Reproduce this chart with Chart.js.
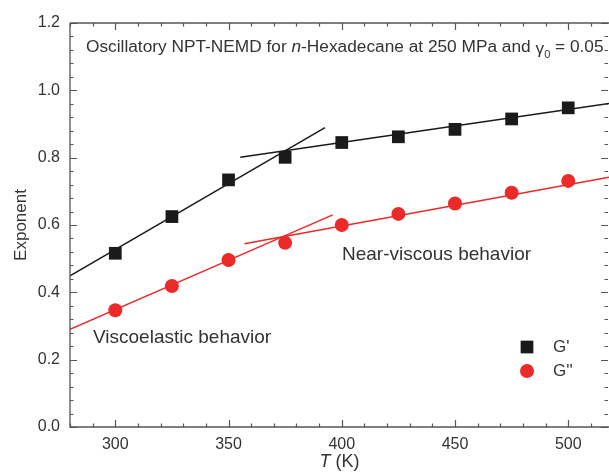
<!DOCTYPE html>
<html>
<head>
<meta charset="utf-8">
<script src="https://cdn.jsdelivr.net/npm/chart.js@4/dist/chart.umd.min.js"></script>
<style>
    html, body { margin: 0; padding: 0; background: #fff; }
    #wrap { width: 609px; height: 472px; }
</style>
</head>
<body>
<div id="wrap"><canvas id="chart" width="609" height="472"></canvas></div>
<script>
// data
const temps = [300, 325, 350, 375, 400, 425, 450, 475, 500];
const gPrime = [0.516, 0.625, 0.734, 0.801, 0.845, 0.862, 0.884, 0.915, 0.948];
const gDouble = [0.347, 0.419, 0.496, 0.547, 0.600, 0.633, 0.664, 0.696, 0.731];

// fitted lines (end points)
const fitGpViscoelastic = [[280, 0.449], [392.6, 0.889]];
const fitGpViscous = [[355.2, 0.801], [518, 0.961]];
const fitGdViscoelastic = [[280, 0.290], [396, 0.630]];
const fitGdViscous = [[357, 0.544], [518, 0.742]];

const xTicks = [300, 350, 400, 450, 500];
const yTicks = [0, 0.2, 0.4, 0.6, 0.8, 1.0, 1.2];
const xMinorStep = 10;
const yMinorStep = 0.04;

const FONT = '"Liberation Sans", Arial, sans-serif';
const TEXT = '#333';
const AXIS = '#555';
const BLACK = '#1a1a1a';
const RED = '#ec2a2a';

const toPts = (xs, ys) => xs.map((x, i) => ({ x: x, y: ys[i] }));
const pairPts = arr => arr.map(p => ({ x: p[0], y: p[1] }));

const lineSet = (pts, color) => ({
    data: pairPts(pts),
    showLine: true,
    borderColor: color,
    borderWidth: 1.5,
    pointRadius: 0,
    pointHoverRadius: 0
});

// frame + inward ticks (major and minor) on all four sides
const framePlugin = {
    id: 'frame',
    afterDatasetsDraw(chart) {
        const { ctx, chartArea: a, scales: { x, y } } = chart;
        ctx.save();
        ctx.strokeStyle = AXIS;
        ctx.lineWidth = 1.3;
        ctx.beginPath();
        ctx.moveTo(a.left, a.top);
        ctx.lineTo(a.right + 1, a.top);
        ctx.moveTo(a.left, a.top);
        ctx.lineTo(a.left, a.bottom);
        ctx.lineTo(a.right + 1, a.bottom);
        ctx.stroke();

        ctx.lineWidth = 1.2;
        ctx.beginPath();
        for (let v = 280; v <= x.max + 0.01; v += xMinorStep) {
            const px = Math.round(x.getPixelForValue(v)) + 0.5;
            const len = xTicks.includes(v) ? 7 : 3.5;
            ctx.moveTo(px, a.bottom); ctx.lineTo(px, a.bottom - len);
            ctx.moveTo(px, a.top); ctx.lineTo(px, a.top + len);
        }
        for (let i = 0; i <= 30; i++) {
            const v = i * yMinorStep;
            const py = Math.round(y.getPixelForValue(v)) + 0.5;
            const len = (i % 5 === 0) ? 7 : 3.5;
            ctx.moveTo(a.left, py); ctx.lineTo(a.left + len, py);
            ctx.moveTo(a.right - 1, py); ctx.lineTo(a.right - 1 - len, py);
        }
        ctx.stroke();
        ctx.restore();
    }
};

// draws a run of [text, font, dy] pieces left to right
function drawRun(ctx, x, y, parts) {
    parts.forEach(p => {
        ctx.font = p[1];
        ctx.fillText(p[0], x, y + (p[2] || 0));
        x += ctx.measureText(p[0]).width;
    });
}

const textPlugin = {
    id: 'texts',
    afterDraw(chart) {
        const { ctx, chartArea: a } = chart;
        ctx.save();
        ctx.fillStyle = TEXT;
        ctx.textBaseline = 'alphabetic';
        ctx.textAlign = 'left';

        const f17 = '17.3px ' + FONT;
        const i17 = 'italic 17.3px ' + FONT;
        drawRun(ctx, 86, 51.5, [
            ['Oscillatory NPT-NEMD for ', f17],
            ['n', i17],
            ['-Hexadecane at 250 MPa and ', f17],
            ['\u03b3', f17, 2],
            ['0', '11px ' + FONT, 6],
            [' = 0.05', f17]
        ]);

        ctx.font = '19px ' + FONT;
        ctx.textBaseline = 'middle';
        ctx.fillText('Viscoelastic behavior', 93, 338);
        ctx.fillText('Near-viscous behavior', 342, 255);

        // x axis title with italic T
        ctx.font = 'italic 18px ' + FONT;
        const wT = ctx.measureText('T').width;
        ctx.font = '18px ' + FONT;
        const wK = ctx.measureText(' (K)').width;
        const cx = (a.left + a.right) / 2;
        drawRun(ctx, cx - (wT + wK) / 2, 462, [['T', 'italic 18px ' + FONT], [' (K)', '18px ' + FONT]]);

        // legend
        const items = [
            { label: "G'", ds: chart.data.datasets[0], y: 347 },
            { label: "G''", ds: chart.data.datasets[1], y: 371 }
        ];
        items.forEach(it => {
            ctx.fillStyle = it.ds.backgroundColor;
            ctx.beginPath();
            if (it.ds.pointStyle === 'rect') {
                const h = it.ds.pointRadius * Math.SQRT1_2;
                ctx.rect(527 - h, it.y - h, 2 * h, 2 * h);
            } else {
                ctx.arc(527, it.y, it.ds.pointRadius, 0, Math.PI * 2);
            }
            ctx.fill();
            ctx.fillStyle = TEXT;
            ctx.font = '17px ' + FONT;
            ctx.fillText(it.label, 553, it.y);
        });
        ctx.restore();
    }
};

new Chart(document.getElementById('chart'), {
    type: 'scatter',
    data: {
        datasets: [
            {
                label: "G'",
                data: toPts(temps, gPrime),
                pointStyle: 'rect',
                pointRadius: 9,
                backgroundColor: BLACK,
                borderWidth: 0
            },
            {
                label: "G''",
                data: toPts(temps, gDouble),
                pointStyle: 'circle',
                pointRadius: 7,
                backgroundColor: RED,
                borderWidth: 0
            },
            lineSet(fitGpViscoelastic, BLACK),
            lineSet(fitGpViscous, BLACK),
            lineSet(fitGdViscoelastic, RED),
            lineSet(fitGdViscous, RED)
        ]
    },
    options: {
        responsive: false,
        animation: false,
        events: [],
        // plot is cut at the right canvas edge, so no auto padding for point overflow
        layout: { autoPadding: false, padding: { top: 23, right: 0, left: 0, bottom: 0 } },
        plugins: { legend: { display: false }, tooltip: { enabled: false } },
        scales: {
            x: {
                type: 'linear',
                min: 280,
                max: 518,
                grid: { display: false, drawTicks: false },
                border: { display: false },
                afterBuildTicks: s => { s.ticks = xTicks.map(v => ({ value: v })); },
                afterFit: s => {
                    s.height = 45;
                    s.paddingLeft = 0;
                    s.paddingRight = 0;
                },
                ticks: {
                    padding: 8,
                    color: TEXT,
                    font: { family: FONT, size: 16 },
                    maxRotation: 0
                }
            },
            y: {
                type: 'linear',
                min: 0,
                max: 1.2,
                grid: { display: false, drawTicks: false },
                border: { display: false },
                afterBuildTicks: s => { s.ticks = yTicks.map(v => ({ value: v })); },
                afterFit: s => { s.width = 70; },
                ticks: {
                    padding: 10,
                    color: TEXT,
                    font: { family: FONT, size: 16 },
                    callback: v => v.toFixed(1)
                },
                title: {
                    display: true,
                    text: 'Exponent',
                    color: TEXT,
                    font: { family: FONT, size: 17 },
                    padding: { top: 11, bottom: 0 }
                }
            }
        }
    },
    plugins: [framePlugin, textPlugin]
});
</script>
</body>
</html>
